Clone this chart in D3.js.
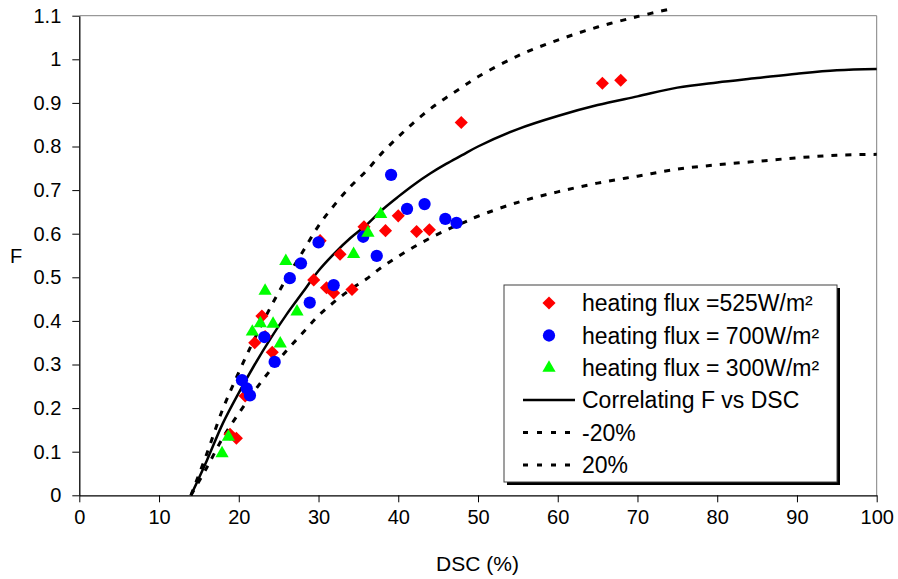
<!DOCTYPE html>
<html><head><meta charset="utf-8">
<script src="https://cdn.jsdelivr.net/npm/d3@7"></script>
<style>body{margin:0;background:#fff}svg{display:block;font-family:"Liberation Sans",Arial,sans-serif}</style>
</head><body>
<svg id="c" width="898" height="579"></svg>
<script>
// ---- data ----
const xTicks = [0,10,20,30,40,50,60,70,80,90,100];
const yTicks = [0,0.1,0.2,0.3,0.4,0.5,0.6,0.7,0.8,0.9,1,1.1];

const seriesNames = ["heating flux =525W/m\u00B2","heating flux = 700W/m\u00B2","heating flux = 300W/m\u00B2","Correlating F vs DSC","-20%","20%"];

const flux525DSC = [47.9,65.6,67.9,40.0,38.4,42.3,43.9,35.7,32.7,30.2,29.4,31.0,31.9,34.2,22.9,22.0,24.2,23.3,20.8,18.9,19.7];
const flux525F   = [0.855,0.945,0.952,0.641,0.607,0.605,0.609,0.616,0.553,0.584,0.494,0.476,0.464,0.472,0.411,0.350,0.328,0.364,0.228,0.140,0.131];

const flux700DSC = [39.1,41.1,43.3,45.9,47.3,37.3,35.6,30.0,27.8,31.9,26.4,28.9,23.2,24.5,20.4,21.0,21.4];
const flux700F   = [0.735,0.657,0.668,0.634,0.625,0.549,0.593,0.580,0.532,0.482,0.498,0.442,0.363,0.306,0.264,0.245,0.229];

const flux300DSC = [37.8,36.2,34.4,25.9,23.3,27.3,24.3,22.7,21.7,25.2,18.7,17.9];
const flux300F   = [0.645,0.602,0.553,0.537,0.469,0.421,0.393,0.394,0.375,0.348,0.134,0.096];

const corrDSC = [14,16,18,20,22,24,26,28,30,32,34,36,38,40,42,44,46,48,50,55,60,65,70,75,80,85,90,95,100];
const corrF   = [0,0.08,0.165,0.235,0.30,0.36,0.415,0.465,0.515,0.555,0.59,0.62,0.655,0.685,0.713,0.738,0.76,0.78,0.80,0.84,0.87,0.895,0.915,0.935,0.947,0.957,0.967,0.975,0.978];

const lowDSC = [14,16,18,20,22,24,26,28,30,32,34,36,38,40,42,44,46,48,50,55,60,65,70,75,80,85,90,95,100];
const lowF   = [0,0.064,0.132,0.188,0.24,0.288,0.332,0.372,0.412,0.444,0.472,0.496,0.524,0.548,0.570,0.590,0.608,0.624,0.64,0.672,0.696,0.716,0.732,0.748,0.758,0.766,0.774,0.78,0.782];

const highDSC = [14,16,18,20,22,24,26,28,30,32,34,36,38,40,42,44,46,48,50,55,60,65,70,74];
const highF   = [0,0.096,0.198,0.282,0.36,0.432,0.498,0.558,0.618,0.666,0.708,0.744,0.786,0.822,0.856,0.886,0.912,0.936,0.96,1.008,1.044,1.074,1.098,1.115];

// ---- layout ----
const svg = d3.select("#c");
const L = 79.3, R = 876.7, T = 15.7, B = 495.3;
const x = d3.scaleLinear().domain([0,100]).range([L,R]);
const y = d3.scaleLinear().domain([0,1.1]).range([B,T]);

// plot border (top/right gray)
svg.append("path").attr("d",`M${L},${T}H${R}V${B}`).attr("fill","none").attr("stroke","#808080").attr("stroke-width",1);

// axes
const xAxis = svg.append("g").attr("transform",`translate(0,${B})`)
  .call(d3.axisBottom(x).tickValues(xTicks).tickSize(7).tickSizeOuter(0).tickPadding(8).tickFormat(d3.format("d")));
const yAxis = svg.append("g").attr("transform",`translate(${L},0)`)
  .call(d3.axisLeft(y).tickValues(yTicks).tickSize(7).tickSizeOuter(0).tickPadding(11).tickFormat(d=>String(+d.toFixed(1))));
[xAxis,yAxis].forEach(g=>{
  g.select(".domain").attr("stroke","#000").attr("stroke-width",1.3);
  g.selectAll(".tick line").attr("stroke","#000").attr("stroke-width",1);
  g.selectAll("text").attr("font-size",20).attr("fill","#000").attr("font-family","Liberation Sans, Arial, sans-serif");
});
xAxis.selectAll("text").attr("dy","0.71em");

// axis titles
svg.append("text").attr("x",477.5).attr("y",571).attr("text-anchor","middle").attr("font-size",21).text("DSC (%)");
svg.append("text").attr("x",16).attr("y",263).attr("text-anchor","middle").attr("font-size",20).text("F");

// curves
const line = d3.line().x(d=>x(d[0])).y(d=>y(d[1])).curve(d3.curveCatmullRom.alpha(0.5));
const zip = (a,b)=>a.map((v,i)=>[v,b[i]]);
const DASH = "6,8";
svg.append("path").attr("d",line(zip(highDSC,highF))).attr("fill","none").attr("stroke","#000").attr("stroke-width",3).attr("stroke-dasharray",DASH);
svg.append("path").attr("d",line(zip(lowDSC,lowF))).attr("fill","none").attr("stroke","#000").attr("stroke-width",3).attr("stroke-dasharray",DASH);
svg.append("path").attr("d",line(zip(corrDSC,corrF))).attr("fill","none").attr("stroke","#000").attr("stroke-width",2.5);

// markers
const diamond = d3.symbol().type(d3.symbolSquare).size(86)();
const circle = d3.symbol().type(d3.symbolCircle).size(118)();
const tri = d3.symbol().type(d3.symbolTriangle).size(76)();
function pts(xs,ys,path,color,rot){
  svg.append("g").selectAll("path").data(zip(xs,ys)).join("path")
    .attr("d",path).attr("fill",color)
    .attr("transform",d=>`translate(${x(d[0])},${y(d[1])})`+(rot?" rotate(45)":""));
}
pts(flux525DSC,flux525F,diamond,"#ff0000",true);
pts(flux700DSC,flux700F,circle,"#0000ff",false);
pts(flux300DSC,flux300F,tri,"#00ff00",false);

// legend
const lg = svg.append("g");
lg.append("rect").attr("x",507).attr("y",288).attr("width",333).attr("height",197).attr("fill","#000");
lg.append("rect").attr("x",504).attr("y",285).attr("width",333).attr("height",197).attr("fill","#fff").attr("stroke","#404040").attr("stroke-width",1);
const rowsY = [303,335.5,368,400,432.5,465];
const mx = 549;
lg.append("path").attr("d",diamond).attr("fill","#ff0000").attr("transform",`translate(${mx},${rowsY[0]}) rotate(45)`);
lg.append("path").attr("d",circle).attr("fill","#0000ff").attr("transform",`translate(${mx},${rowsY[1]})`);
lg.append("path").attr("d",tri).attr("fill","#00ff00").attr("transform",`translate(${mx},${rowsY[2]})`);
lg.append("line").attr("x1",523).attr("x2",575).attr("y1",rowsY[3]).attr("y2",rowsY[3]).attr("stroke","#000").attr("stroke-width",2.5);
[4,5].forEach(i=>lg.append("line").attr("x1",523).attr("x2",575).attr("y1",rowsY[i]).attr("y2",rowsY[i]).attr("stroke","#000").attr("stroke-width",3).attr("stroke-dasharray","5,9"));
seriesNames.forEach((s,i)=>lg.append("text").attr("x",582).attr("y",rowsY[i]+8).attr("font-size",23).attr("fill","#000").text(s));
</script>
</body></html>
